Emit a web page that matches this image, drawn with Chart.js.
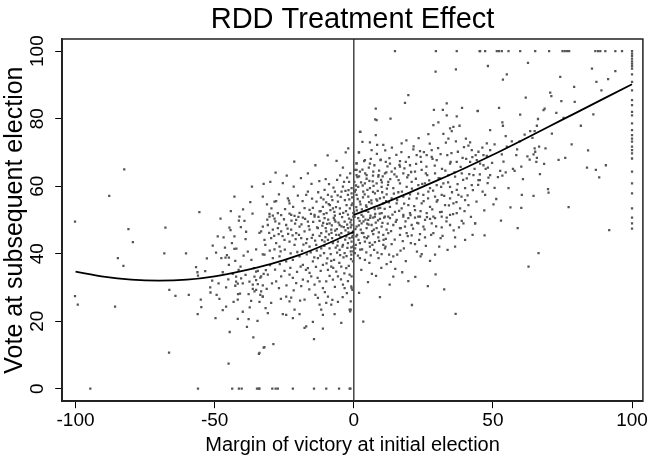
<!DOCTYPE html>
<html>
<head>
<meta charset="utf-8">
<script src="https://cdn.jsdelivr.net/npm/chart.js@4.4.1/dist/chart.umd.min.js"></script>
<style>
  body { margin: 0; background: #fff; }
  #wrap { width: 649px; height: 457px; }
</style>
</head>
<body>
<div id="wrap"><canvas id="rddCanvas" width="649" height="457"></canvas></div>
<script>
// tick labels
var xTicks = [-100, -50, 0, 50, 100];
var yTicks = [0, 20, 40, 60, 80, 100];

// fitted curves
var fitLeftX = [-100, -90, -80, -70, -60, -50, -40, -30, -20, -10, 0];
var fitLeftY = [34.7, 33.2, 32.3, 32.0, 32.3, 33.3, 34.9, 36.9, 39.5, 42.8, 46.5];
var fitRightX = [0, 10, 20, 30, 40, 50, 60, 70, 80, 90, 100];
var fitRightY = [51.5, 54.7, 58.1, 61.7, 65.4, 69.3, 73.4, 77.6, 81.8, 86.0, 90.2];

// scatter points [margin, vote], margin below -32
var lostOuter = [
  [-82.5,65.0],[-87.9,57.1],[-100.2,49.5],[-81.0,47.3],[-79.4,43.4],[-84.8,38.7],[-82.8,36.4],[-100.2,27.4],[-99.2,24.9],[-85.8,24.3],[-94.7,0],
  [-36.6,59.9],[-42.9,56.9],[-55.5,52.3],[-41.1,51.0],[-32.4,60.7],[-32.7,56.9],
  [-41.3,49.8],[-39.3,49.7],[-67.7,47.7],[-44.7,47.7],[-44.3,47.0],[-38.7,46.5],[-33.9,46.2],[-33.3,46.6],[-32.7,48.0],
  [-48.9,45.1],[-46.8,44.8],[-42.9,45.1],[-50.7,42.4],[-42.9,41.4],[-42.2,41.5],[-38.1,40.6],[-35.1,41.3],[-32.7,39.8],[-68.1,40.1],[-60.3,40.1],
  [-45.6,39.6],[-47.6,38.7],[-46.1,38.8],[-44.9,38.8],[-42.6,37.9],[-44.9,36.7],[-40.7,36.2],[-56.7,36.0],[-56.2,34.5],[-56.0,33.5],[-47.1,34.5],
  [-42.3,33.2],[-40.5,32.7],[-38.9,33.7],[-35.9,35.7],[-35.1,34.7],[-34.5,34.9],[-35.7,33.2],[-35.1,32.2],[-33.6,32.9],[-32.4,34.0],[-50.9,32.0],
  [-42.3,31.7],[-41.7,31.1],[-39.9,31.2],[-37.5,31.7],[-36.3,30.8],[-34.5,31.0],[-32.7,30.6],[-42.6,30.5],[-66.3,29.3],[-51.6,30.0],[-51.5,28.5],
  [-64.1,27.5],[-59.3,27.8],[-49.3,27.8],[-48.3,26.6],[-45.9,30.0],[-41.6,28.0],[-40.9,28.2],[-41.7,26.4],[-37.8,28.0],[-35.7,28.8],[-36.3,29.6],
  [-35.1,29.3],[-33.6,27.8],[-32.7,27.3],[-36.9,26.0],[-33.9,25.7],[-55.0,26.4],[-54.8,24.2],[-45.9,24.3],[-56.1,22.1],[-49.7,20.9],[-41.7,20.7],
  [-37.8,20.6],[-34.6,20.1],[-38.4,18.3],[-32.4,12.2],[-34.1,10.3],[-66.4,10.7],[-45.0,7.4],
  [-56.0,0],[-43.7,0],[-41.3,0],[-40.3,0],[-34.8,0],[-34.1,0],[-33.9,0],[-33.3,33.3],[-33.3,28.8],[-33.9,10.6],
  [-37.2,55.3],[-39.8,53.1],[-44.2,52.6],[-47.9,50.4],[-36.4,51.9],[-38.9,44.3],[-40.6,47.9],[-43.8,43.1],[-46.3,41.8],[-49.5,40.3],[-52.8,38.6],
  [-36.8,38.2],[-39.6,39.4],[-41.4,35.2],[-43.5,34.0],[-45.1,32.4],[-48.6,31.2],[-53.4,34.8],[-37.4,24.1],[-39.9,22.8],[-43.2,25.7],[-47.1,23.3],
  [-44.6,16.8],[-36.1,15.2]
];

// margin between -32 and 0
var lostCore = [
  [-2.0,71.2],[-2.9,70.0],[-6.2,67.5],[-3.9,65.5],[-28.1,64.0],[-16.5,63.8],[-30.0,61.3],[-25.5,60.9],[-21.6,59.9],[-15.2,60.7],
  [-10.1,62.1],[-6.0,61.9],[-2.4,62.5],[-1.7,61.3],[-28.5,55.4],[-27.9,55.6],[-23.7,56.4],[-23.3,55.7],[-23.1,54.9],[-16.5,58.4],
  [-17.1,57.4],[-10.5,58.9],[-9.3,57.4],[-8.0,56.9],[-6.8,58.4],[-4.4,58.4],[-3.9,59.9],[-0.8,59.4],[-17.7,53.5],[-15.9,53.0],[-14.7,53.6],
  [-13.4,55.4],[-12.3,52.5],[-14.1,51.5],[-11.1,53.9],[-9.8,52.0],[-30.3,51.8],[-29.1,51.3],[-27.3,52.0],[-26.1,51.4],[-23.1,51.9],[-21.3,51.2],
  [-19.5,52.1],[-8.6,54.4],[-7.5,53.4],[-5.7,55.4],[-5.0,53.4],[-2.6,54.4],[-1.4,53.4],[-3.2,55.9],[-2.1,57.4],[-0.8,54.4],[-0.2,52.0],[-2.1,51.6],
  [-5.0,51.8],[-6.8,51.3],
  [-30.3,51.0],[-28.5,50.4],[-22.5,51.5],[-20.7,50.0],[-18.3,50.7],[-16.5,49.5],[-14.1,51.0],[-12.3,49.7],[-10.5,50.5],[-8.7,49.0],[-6.9,50.0],
  [-5.1,48.5],[-3.3,49.5],[-2.1,47.6],[-0.9,50.0],[-0.3,46.6],[-30.9,48.5],[-29.1,47.1],[-27.3,47.6],[-26.1,46.6],[-24.3,48.5],
  [-22.5,47.1],[-20.7,46.1],[-19.5,48.0],[-17.7,46.6],[-15.9,47.1],[-14.7,45.6],[-12.9,47.6],[-11.7,46.1],[-9.9,46.6],[-8.1,47.1],[-6.3,45.6],
  [-4.5,46.1],[-2.7,45.1],[-1.5,44.6],[-9.3,44.1],[-7.5,43.1],[-5.7,43.6],[-3.9,42.6],[-2.1,43.1],[-0.3,42.1],[-0.2,40.7],[-8.7,41.6],[-5.1,41.1],
  [-3.3,40.2],[-0.9,39.7],[-32.1,44.1],[-29.7,44.6],[-27.9,43.1],[-26.7,42.1],[-24.9,44.1],[-23.1,43.6],[-21.3,42.6],[-18.9,44.6],[-17.1,43.1],
  [-15.9,42.1],[-13.5,42.6],[-11.7,41.6],[-10.5,43.6],
  [-32.1,39.7],[-29.1,38.7],[-26.7,39.2],[-24.3,37.7],[-21.9,38.2],[-19.5,39.2],[-18.3,36.7],[-16.5,35.7],[-14.7,37.7],[-12.9,38.7],[-11.1,36.7],
  [-9.3,35.2],[-8.1,36.2],[-6.3,34.7],[-4.5,36.2],[-2.7,35.7],[-1.5,33.8],[-0.3,37.7],
  [-30.9,33.8],[-27.9,31.8],[-26.1,33.3],[-23.1,33.8],[-21.9,32.8],[-20.7,31.3],[-18.3,32.3],[-16.5,31.8],[-15.3,33.3],[-14.1,30.8],
  [-12.3,31.8],[-11.1,29.8],[-9.9,31.8],[-7.5,32.3],[-5.7,33.3],[-3.9,30.8],[-3.3,29.8],[-2.5,28.3],[-0.9,30.3],
  [-32.7,27.3],[-29.7,25.4],[-31.7,23.9],[-30.9,22.4],[-24.3,27.3],[-22.5,27.0],[-23.1,25.9],[-21.3,23.4],[-25.5,22.1],[-24.3,21.9],
  [-21.9,20.9],[-19.5,22.1],[-17.7,26.4],[-12.9,26.9],[-12.3,24.9],[-11.7,23.4],[-11.1,21.9],[-9.3,27.3],[-9.9,25.4],[-8.1,24.9],[-5.7,25.7],
  [-6.9,22.1],[-1.5,23.4],[-1.3,22.9],
  [-4.5,19.5],[-14.7,19.8],[-17.1,18.5],[-17.7,18.0],[-11.1,17.8],[-28.9,13.2],[-32.1,12.3],[-14.3,14.7],
  [-29.3,0],[-28.1,0],[-27.3,0],[-21.9,0],[-14.3,0],[-9.9,0],[-5.3,0],[-1.5,0],
  [-0.2,51.0],[-0.8,48.5],[-0.5,46.1],[-0.8,43.6],[-1.1,40.7],[-0.8,33.3],[-0.8,29.8],[-0.5,29.3],[-1.1,25.9],[-1.1,23.4],[-1.2,0],
  [-0.8,57.9],[-0.5,54.9],
  [-1.2,49.3],[-2.8,52.6],[-3.6,47.9],[-4.2,50.8],[-5.5,49.2],[-6.1,47.3],[-7.2,50.6],[-7.9,48.4],[-8.4,52.9],[-9.6,48.8],[-10.8,51.7],
  [-11.3,48.3],[-12.7,50.9],[-13.2,47.8],[-14.6,49.4],[-15.4,51.8],[-16.2,48.2],[-17.5,50.3],[-18.8,48.7],[-19.9,50.9],[-21.1,48.9],[-22.4,49.8],
  [-23.8,47.4],[-25.1,50.2],[-26.8,48.9],[-28.2,49.6],[-31.1,50.1],[-0.6,44.8],[-1.9,46.3],[-3.1,44.2],[-4.8,44.9],[-5.9,42.4],[-6.7,46.8],
  [-7.8,44.6],[-8.9,45.7],[-10.2,44.9],[-11.4,44.0],[-12.3,45.3],[-13.9,43.9],[-15.1,44.7],[-16.8,44.3],[-18.1,42.7],[-19.7,45.6],[-20.9,44.3],
  [-22.0,45.4],[-23.6,45.9],[-25.6,45.2],[-27.0,45.8],[-28.6,45.3],[-30.4,46.2],[-31.8,42.6],
  [-1.0,38.4],[-2.3,41.7],[-3.7,38.9],[-4.9,39.6],[-6.0,40.3],[-7.1,38.2],[-8.3,39.9],[-9.5,38.6],[-10.7,40.2],[-12.0,39.4],[-13.3,40.9],
  [-14.2,38.9],[-15.5,40.4],[-16.9,39.8],[-18.6,40.8],[-20.3,40.5],[-22.7,40.1],[-24.8,41.2],[-26.3,40.7],[-28.5,41.3],[-30.2,40.9],
  [-1.8,36.4],[-3.4,34.2],[-5.2,37.3],[-7.4,35.8],[-9.8,37.1],[-11.9,34.9],[-13.6,36.1],[-15.9,34.3],[-17.2,35.2],[-19.1,36.2],[-20.4,34.6],
  [-22.8,35.8],[-24.9,34.9],[-26.6,36.9],[-28.3,35.3],[-30.1,36.6],[-31.6,35.1],
  [-2.1,31.9],[-4.6,32.4],[-6.8,30.2],[-8.7,33.4],[-10.4,28.6],[-13.0,32.8],[-16.0,29.4],[-18.9,30.4],[-21.6,29.1],[-24.2,30.6],[-26.9,29.8],
  [-29.4,31.2],[-31.3,29.6],[-4.0,27.1],[-7.7,26.3],[-13.8,27.8],[-19.3,26.1],[-26.2,26.6],
  [-1.6,56.1],[-3.0,58.6],[-4.7,56.8],[-6.4,53.8],[-7.7,55.9],[-9.9,55.2],[-11.8,56.6],[-12.8,58.2],[-15.0,56.3],[-18.4,55.6],[-20.1,57.2],
  [-21.8,53.9],[-24.7,53.2],[-26.9,57.6],[-29.6,53.4],[-31.2,54.6],[-1.3,63.8],[-4.9,63.2],[-8.9,60.6],[-12.4,61.5],[-19.0,62.4],[-24.1,63.1],
  [-13.8,66.2],[-21.4,67.3],[-9.4,69.1],
  [-0.4,45.2],[-1.1,47.8],[-1.7,50.4],[-2.4,48.6],[-3.0,46.9],[-3.8,52.1],[-4.4,48.1],[-5.3,45.6],[-6.6,49.5],[-7.0,52.4],[-8.0,46.2],[-9.2,50.1],
  [-10.1,47.6],[-11.0,49.1],[-11.9,52.6],[-0.9,41.9],[-2.6,39.3],[-4.1,42.1],[-6.5,41.8],[-8.1,37.9],[-10.6,42.3],[-0.6,56.7],[-1.9,58.8],
  [-3.5,61.3],[-5.8,57.3],[-7.3,59.6],[-9.0,54.7],[-10.9,56.1]
];

// margin between 0 and 45
var wonCore = [
  [2.2,76.1],[1.9,70.0],[1.0,66.8],[1.0,64.8],[1.0,63.3],[0.4,58.4],
  [14.8,100],[29.5,100],[37.0,100],[45.2,100],[29.4,93.9],[36.7,94.6],[19.6,87.0],[18.4,84.7],[7.9,83.0],[7.7,79.8],[8.2,79.6],[13.2,80.0],
  [28.8,82.6],[32.0,82.6],[33.4,84.5],[33.4,81.0],[37.0,80.7],[38.9,83.2],[44.5,82.2],[28.6,78.1],[30.4,78.9],[34.6,77.1],[35.8,77.6],[38.0,77.9],
  [35.2,76.3],[26.8,75.4],[32.2,75.5],[34.0,74.1],[36.7,73.3],[40.3,74.1],[41.8,73.0],[41.2,72.0],[42.4,70.7],[44.8,70.2],
  [2.4,76.1],[3.1,73.1],[5.8,73.0],[7.9,75.1],[8.4,72.2],[10.6,72.2],[6.4,70.7],[1.8,70.0],[17.2,72.7],[21.4,70.9],
  [23.8,70.4],[22.6,69.2],[24.0,68.7],[26.2,69.2],[28.0,70.7],[28.0,68.7],[29.8,67.7],[31.2,69.5],[33.6,69.2],[34.6,66.7],[37.0,67.2],[39.1,68.4],
  [41.8,67.2],[44.2,67.7],[45.4,66.7],[1.0,66.7],[4.0,67.7],[5.8,66.7],[9.6,67.7],[11.5,67.2],[13.0,66.7],[16.6,67.4],[18.7,67.2],[20.2,66.2],
  [14.8,65.3],[16.6,65.8],
  [0.4,64.8],[2.2,64.3],[4.6,63.3],[7.0,64.3],[8.8,62.8],[11.2,63.8],[13.6,64.3],[15.4,62.8],[17.8,63.8],[19.6,63.3],[22.0,64.3],[24.4,64.8],
  [26.4,63.3],[29.2,63.8],[31.0,62.3],[34.0,63.3],[36.4,62.8],[38.8,63.8],[40.6,62.3],[43.0,63.3],[44.8,61.8],
  [0.2,61.3],[1.6,59.8],[4.0,60.8],[5.8,59.4],[8.2,60.8],[10.0,59.8],[12.4,61.3],[14.2,59.4],[16.6,60.8],[19.0,59.8],[20.8,61.3],[23.2,60.3],
  [25.6,60.8],[27.4,59.4],[29.8,60.3],[32.2,60.8],[34.6,59.8],[37.0,58.9],[40.0,59.4],[42.4,60.3],
  [1.0,57.4],[3.4,58.4],[5.2,56.9],[7.6,57.9],[9.4,56.4],[11.8,57.6],[13.6,56.4],[16.0,58.2],[17.8,56.9],[20.2,57.6],[22.6,56.4],[25.0,57.4],
  [26.8,58.4],[29.2,56.9],[31.6,57.4],[34.6,56.4],[37.6,57.4],[40.0,55.9],
  [2.2,55.4],[4.6,53.9],[6.4,54.9],[8.8,53.4],[10.6,54.9],[13.0,53.9],[15.4,54.9],[17.2,53.4],[19.6,54.4],[22.0,52.9],[24.4,54.9],[27.4,53.9],
  [29.8,55.4],[32.8,54.4],[35.8,54.9],[38.2,53.4],[41.2,54.4],
  [0.1,52.4],[2.8,51.5],[5.2,52.4],[7.6,51.0],[10.0,52.0],[12.4,51.0],[14.8,52.4],[17.8,51.5],[20.2,52.0],[23.2,51.0],[26.2,52.0],[28.6,51.0],
  [31.6,52.4],[34.6,51.5],[37.0,52.0],
  [1.6,50.5],[3.4,51.0],[5.2,50.0],[7.0,50.7],[9.4,50.3],[11.2,51.0],[13.0,50.5],[15.4,50.0],[17.8,51.0],[19.6,50.5],[22.0,50.7],[23.8,51.0],
  [25.6,50.0],[27.4,50.3],[29.2,50.5],[31.6,51.0],[33.4,50.7],[38.8,49.7],[39.4,49.0],[43.6,49.0],
  [1.0,48.0],[2.8,49.0],[4.6,47.6],[6.4,48.5],[8.2,47.6],[10.0,48.0],[11.8,47.1],[14.2,48.5],[16.6,47.6],[18.4,48.0],[20.8,48.5],[23.2,49.0],
  [25.0,48.0],[28.0,49.0],[31.6,47.8],[34.6,48.5],
  [1.2,45.6],[3.4,46.1],[5.2,45.1],[7.0,45.8],[8.8,44.8],[10.6,45.6],[12.4,46.1],[16.6,45.6],[19.0,46.1],[20.8,45.4],[23.8,45.8],[25.6,44.8],
  [28.6,46.1],[36.4,44.8],[40.0,44.1],[42.7,45.6],
  [0.7,42.6],[2.2,43.1],[4.0,43.6],[5.8,42.1],[7.6,43.4],[9.1,43.8],[10.6,42.6],[13.6,42.8],[18.0,41.6],[22.0,42.8],[30.7,42.1],[36.4,42.1],
  [0.4,40.2],[2.2,38.7],[4.0,38.2],[6.1,39.5],[10.0,39.9],[11.2,41.6],[12.7,39.7],[14.2,39.2],[15.6,39.7],[24.4,39.9],[24.0,39.2],[29.2,39.7],
  [11.8,36.9],[14.9,35.5],[6.5,34.0],[14.2,33.2],[19.6,31.9],[29.4,33.9],[32.5,29.4],[20.9,24.8],[36.6,22.2],[3.4,19.9],
  [0.6,47.3],[0.9,53.8],[1.4,56.2],[1.7,44.1],[2.1,49.7],[2.5,47.1],[2.9,53.1],[3.3,56.7],[3.8,44.9],[4.2,50.1],[4.4,54.3],[4.9,58.9],
  [5.3,48.6],[5.7,43.2],[6.0,51.3],[6.3,55.8],[6.8,61.4],[7.2,47.1],[7.5,53.2],[7.9,49.2],[8.4,55.7],[8.6,58.6],[9.0,46.3],[9.3,51.9],
  [9.8,61.9],[10.3,49.1],[10.8,56.7],[11.1,53.3],[11.5,44.4],[11.9,59.3],[12.2,48.9],[12.6,55.2],[13.1,62.1],[13.4,46.7],[13.9,51.6],[14.4,57.8],
  [14.7,44.2],[15.1,49.4],[15.6,55.9],[16.1,61.8],[16.3,52.7],[16.9,47.6],[17.3,58.4],[17.6,43.7],[18.1,54.8],[18.6,49.6],[19.2,62.6],[19.4,45.2],
  [19.9,56.3],[20.4,51.4],[20.9,59.3],[21.3,47.4],[21.7,54.1],[22.3,62.2],[22.8,49.1],[23.1,57.8],[23.5,44.1],[24.0,52.6],[24.6,60.7],[25.1,55.6],
  [25.4,47.2],[25.9,63.8],[26.3,50.8],[26.7,56.4],[27.1,61.7],[27.8,45.6],[28.2,53.1],[28.5,58.7],[29.1,66.1],[29.6,48.1],[30.1,55.9],[30.5,62.4],
  [31.0,52.3],[31.4,59.8],[31.9,45.3],[32.5,57.1],[32.9,64.6],[33.3,49.6],[33.9,61.1],[34.2,54.3],[34.8,67.2],[35.3,58.2],[35.7,51.7],[36.2,64.1],
  [36.9,55.3],[37.3,60.6],[37.8,47.8],[38.4,65.7],[38.7,56.9],[39.3,61.9],[39.8,52.6],[40.4,68.1],[40.9,57.3],[41.5,63.6],[42.1,50.9],[42.8,58.8],
  [43.4,65.1],[44.1,55.4],[44.7,60.4],
  [0.8,60.2],[1.3,62.7],[2.6,61.1],[3.1,64.9],[3.7,67.4],[4.6,62.2],[5.4,65.5],[6.1,68.1],[6.9,63.1],[7.4,66.2],[8.3,69.6],[9.1,64.6],
  [9.7,67.9],[10.4,62.9],[11.3,70.6],[12.1,65.9],[12.8,68.3],[13.7,71.4],[14.6,63.5],[15.3,69.3],[16.4,66.3],[17.1,70.1],[18.2,65.3],[18.9,73.6],
  [19.8,68.6],[20.6,64.2],[21.5,71.8],[22.4,66.6],[23.3,74.2],[24.2,67.2],[25.2,70.1],[26.1,65.8],[27.3,72.6],[28.3,68.1],[30.3,71.3],[31.7,65.1],
  [33.1,72.9],[35.1,69.8],[37.4,70.2],[39.6,71.6],[42.6,68.6],
  [0.5,41.6],[1.5,39.4],[3.0,41.3],[4.5,40.4],[5.6,37.3],[7.3,41.1],[8.9,38.7],[9.9,35.8],[11.4,42.1],[13.3,37.6],[16.8,40.9],[18.7,37.8],
  [20.5,43.1],[22.7,40.6],[25.9,42.3],[27.4,37.9],[31.2,44.6],[33.7,41.1],[35.9,46.9],[2.7,35.2],[5.1,31.6],[8.0,33.4],[12.9,30.8],[17.4,34.5],
  [22.1,33.1],[26.6,30.4],[1.9,28.4],[9.4,27.1],
  [0.3,50.9],[0.9,45.1],[1.1,52.8],[1.8,48.4],[2.4,54.6],[2.9,46.2],[3.5,49.6],[3.9,57.6],[4.3,52.7],[4.8,48.9],[5.5,55.3],[5.9,50.6],
  [6.6,46.7],[6.9,58.3],[7.7,51.8],[8.1,56.1],[8.7,49.9],[9.5,53.6],[10.2,58.2],[10.9,50.7],[11.6,55.6],[12.3,60.4],[0.7,58.9],[1.9,62.9],
  [3.2,60.2],[4.1,63.8],[5.6,61.6],[7.1,60.1],[8.9,63.3],[10.1,61.1],[11.7,64.1],[2.3,41.2],[4.7,44.6],[6.7,42.6],[8.5,40.3],[10.7,44.1]
];

// margin above 45
var wonOuter = [
  [45.4,100],[47.2,100],[51.4,100],[52.2,100],[53.2,100],[55.6,100],[59.8,100],[65.2,100],[70.2,100],[75.0,100],[75.8,100],[76.6,100],[77.4,100],
  [86.8,100],[87.8,100],[88.6,100],[90.4,100],[94.0,100],[96.4,100],
  [48.2,95.6],[62.6,96.5],[55.0,93.1],[53.6,91.6],[85.6,94.8],[94.0,94.1],[74.2,92.4],[87.2,90.9],[91.4,91.7],[79.2,89.4],[89.0,88.4],[70.6,87.7],
  [71.0,86.7],[61.8,86.2],[74.6,85.2],[79.4,85.0],[68.2,82.5],[68.6,83.0],[52.2,83.2],[44.6,82.3],[59.8,81.2],[72.8,81.7],[66.2,79.9],[53.4,78.9],
  [53.6,77.9],[65.8,77.9],[63.4,76.3],[65.0,76.3],[49.0,76.6],[61.4,75.3],[54.6,74.8],[59.6,73.3],[56.8,73.3],[47.8,72.7],[50.6,72.4],[46.2,71.4],
  [49.0,70.7],[55.0,71.7],[65.0,71.2],[66.6,71.7],[65.2,70.2],[64.6,69.4],[46.6,69.2],[43.8,69.2],[47.8,69.0],[53.2,69.4],[58.4,69.2],[63.2,67.9],
  [65.8,68.4],[65.6,67.2],[68.4,66.6],[76.0,68.4],[46.6,66.2],[47.4,65.1],[48.2,65.5],[60.2,65.8],[57.8,64.5],[52.6,64.5],[54.6,64.1],[53.4,63.1],
  [45.3,63.5],[48.4,62.5],[49.0,63.3],[83.8,65.5],[87.0,64.8],[90.6,66.2],[88.2,62.6],[45.3,61.8],[50.6,59.5],[69.8,59.1],[70.0,58.1],[47.2,57.4],
  [51.2,56.2],[60.4,57.4],[64.6,57.1],[60.2,53.6],[77.2,53.8],
  [43.6,49.0],[47.0,45.4],[66.4,40.2],[62.8,36.2],[91.8,47.0],
  [46.3,58.4],[48.1,60.9],[49.7,66.9],[51.8,62.7],[53.8,67.3],[55.6,59.4],[57.2,65.1],[58.7,70.9],[60.8,62.1],[62.4,68.8],[64.2,74.3],[66.9,63.6],
  [68.9,71.2],[71.2,75.6],[73.6,67.8],[75.4,80.2],[78.3,72.4],[81.6,77.9],[84.2,70.6],[86.1,81.3],[46.9,52.8],[50.2,54.6],[52.9,49.8],[56.3,53.7],
  [58.9,47.6]
];

// column of points at margin 100
var wonFullVotes = [100, 99.3, 98.6, 97.8, 97.0, 96.3, 95.6, 94.8, 93.1, 90.9, 88.4, 85.5, 84.0, 82.0, 81.0, 78.6, 76.6, 75.1, 74.1,
  73.2, 71.7, 70.7, 69.7, 68.2, 64.3, 60.8, 57.9, 53.4, 50.7, 49.0, 47.4];

function toXY(list) { return list.map(function (p) { return { x: p[0], y: p[1] }; }); }
function pairs(xs, ys) { return xs.map(function (v, i) { return { x: v, y: ys[i] }; }); }

var scatterData = toXY(lostOuter.concat(lostCore, wonCore, wonOuter))
  .concat(wonFullVotes.map(function (v) { return { x: 100, y: v }; }));

var framePlugin = {
  id: 'frame',
  beforeDatasetsDraw: function (chart) {
    var c = chart.ctx, a = chart.chartArea, x0 = chart.scales.x.getPixelForValue(0);
    c.save();
    c.strokeStyle = '#444';
    c.lineWidth = 1.5;
    c.beginPath();
    c.moveTo(x0, a.top);
    c.lineTo(x0, a.bottom);
    c.stroke();
    c.restore();
  },
  afterDatasetsDraw: function (chart) {
    var c = chart.ctx, a = chart.chartArea;
    c.save();
    c.strokeStyle = '#222';
    c.lineWidth = 1.5;
    c.strokeRect(a.left, a.top, a.right - a.left, a.bottom - a.top);
    c.restore();
  }
};

Chart.defaults.font.family = '"Liberation Sans", Arial, sans-serif';
Chart.defaults.color = '#000';

var ctx = document.getElementById('rddCanvas').getContext('2d');
var rddChart = new Chart(ctx, {
  type: 'scatter',
  data: {
    datasets: [
      {
        data: scatterData,
        pointStyle: 'rect',
        pointRadius: 1.6,
        pointBackgroundColor: '#555',
        pointBorderWidth: 0,
        order: 2
      },
      {
        type: 'line',
        data: pairs(fitLeftX, fitLeftY),
        borderColor: '#000',
        borderWidth: 1.8,
        pointRadius: 0,
        cubicInterpolationMode: 'monotone',
        order: 1
      },
      {
        type: 'line',
        data: pairs(fitRightX, fitRightY),
        borderColor: '#000',
        borderWidth: 1.8,
        pointRadius: 0,
        cubicInterpolationMode: 'monotone',
        order: 1
      }
    ]
  },
  options: {
    responsive: false,
    animation: false,
    layout: { padding: { left: 0, right: 6, top: 0, bottom: 0 } },
    plugins: {
      legend: { display: false },
      tooltip: { enabled: false },
      title: {
        display: true,
        fullSize: false,
        text: 'RDD Treatment Effect',
        font: { size: 29, weight: 'normal' },
        padding: { top: 3, bottom: 1.2 }
      }
    },
    scales: {
      x: {
        type: 'linear',
        min: -104.8,
        max: 103.9,
        afterBuildTicks: function (s) { s.ticks = xTicks.map(function (v) { return { value: v }; }); },
        ticks: { font: { size: 19 }, padding: 1, maxRotation: 0 },
        grid: { drawOnChartArea: false, drawTicks: true, tickLength: 7, color: '#000' },
        border: { display: true, color: '#222', width: 1.5 },
        title: { display: true, text: 'Margin of victory at initial election', font: { size: 20 }, padding: { top: 0, bottom: 0 } }
      },
      y: {
        type: 'linear',
        min: -3.7,
        max: 103.6,
        afterBuildTicks: function (s) { s.ticks = yTicks.map(function (v) { return { value: v }; }); },
        ticks: { font: { size: 19 }, padding: 1.2, minRotation: 90, maxRotation: 90, crossAlign: 'center' },
        grid: { drawOnChartArea: false, drawTicks: true, tickLength: 7, color: '#000' },
        border: { display: true, color: '#222', width: 1.5 },
        title: { display: true, text: 'Vote at subsequent election', font: { size: 25 }, padding: { top: 0, bottom: 0 } }
      }
    }
  },
  plugins: [framePlugin]
});
</script>
</body>
</html>
